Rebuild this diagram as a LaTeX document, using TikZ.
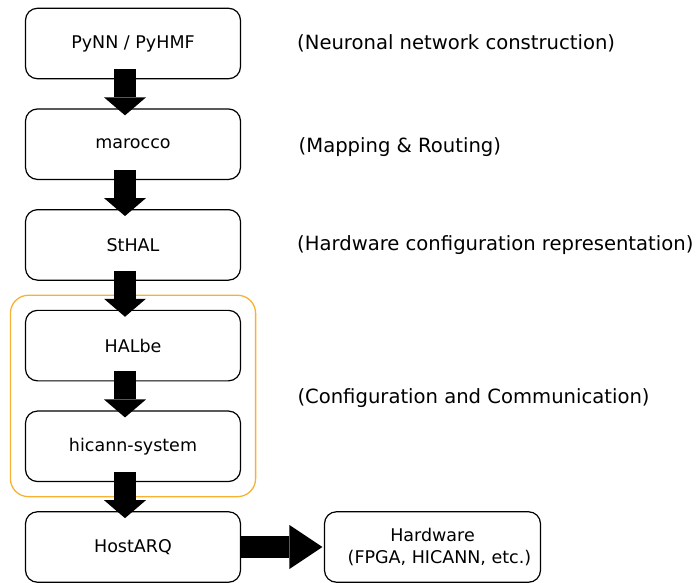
\documentclass[tikz,border=0pt]{standalone}
\usepackage{fontspec}
\setmainfont{DejaVu Sans}
\usetikzlibrary{arrows.meta,fit,calc}
\definecolor{grpcol}{RGB}{247,178,52}
\begin{document}
\begin{tikzpicture}[x=1pt,y=-1pt,
  box/.style={draw=black, line width=1.2pt, rounded corners=12pt, minimum width=215pt, minimum height=70.5pt, inner sep=0pt, font=\fontsize{17.5}{21.5}\selectfont, fill=white, align=center},
  lab/.style={anchor=base west, inner sep=0pt, font=\fontsize{19.6}{24}\selectfont},
  bigarrow/.style={line width=22pt, -{Triangle[width=42pt,length=18pt,line width=0pt]}},
  sidearrow/.style={line width=22pt, -{Triangle[width=44pt,length=33pt,line width=0pt]}},
  grpbox/.style={draw=grpcol, line width=1.3pt, rounded corners=18pt, inner sep=14.5pt}
]
\useasboundingbox (0,0) rectangle (697,582);

\node[box] (pynn) at (133,43.5) {PyNN / PyHMF};
\node[box] (marocco) at (133,144.2) {marocco};
\node[box] (sthal) at (133,244.9) {StHAL};
\node[box] (halbe) at (133,345.6) {HALbe};
\node[box] (hicann) at (133,446.3) {hicann-system};
\node[box] (host) at (133,547) {HostARQ};
\node[box, minimum width=216pt] (hw) at (432.5,547) {Hardware\\\hspace*{14pt}(FPGA, HICANN, etc.)};

\node[grpbox, fit=(halbe)(hicann)] (grp) {};

\node[lab] (l1) at (297,49.3) {(Neuronal network construction)};
\node[lab] (l2) at (298.5,152.7) {(Mapping \& Routing)};
\node[lab] (l3) at (297,250) {(Hardware configuration representation)};
\node[lab] (l4) at (297.3,403.3) {(Configuration and Communication)};

\draw[bigarrow] ([shift={(-8,-10)}]pynn.south) -- ([shift={(-8,7)}]marocco.north);
\draw[bigarrow] ([shift={(-8,-10)}]marocco.south) -- ([shift={(-8,7)}]sthal.north);
\draw[bigarrow] ([shift={(-8,-10)}]sthal.south) -- ([shift={(-8,7)}]halbe.north);
\draw[bigarrow] ([shift={(-8,-10)}]halbe.south) -- ([shift={(-8,7)}]hicann.north);
\draw[bigarrow] ([shift={(-8,-10)}]hicann.south) -- ([shift={(-8,7)}]host.north);
\draw[sidearrow] (host.east) -- ([xshift=-1.5pt]hw.west);
\end{tikzpicture}
\end{document}
